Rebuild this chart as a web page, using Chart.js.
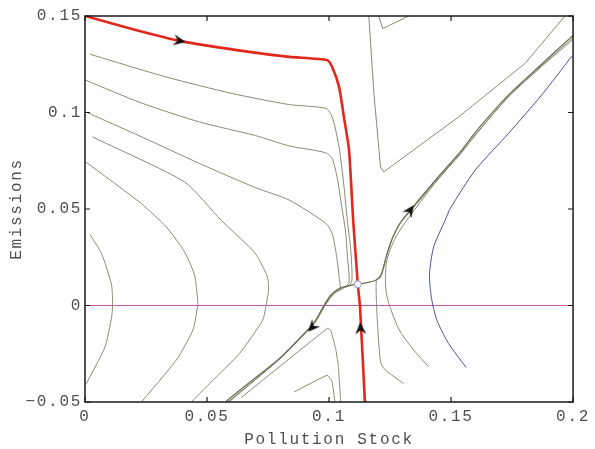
<!DOCTYPE html>
<html><head><meta charset="utf-8">
<script src="https://cdn.jsdelivr.net/npm/chart.js@4.4.0/dist/chart.umd.min.js"></script>
<style>html,body{margin:0;padding:0;background:#fff}</style>
</head><body>
<canvas id="c" width="595" height="449"></canvas>
<script>
// ---- tick values / labels ----
const xTickValues = [0, 0.05, 0.1, 0.15, 0.2];
const xTickLabels = ['0', '0.05', '0.1', '0.15', '0.2'];
const yTickValues = [-0.05, 0, 0.05, 0.1, 0.15];
const yTickLabels = ['\u22120.05', '0', '0.05', '0.1', '0.15'];

// ---- phase-diagram curves: [pollution stock, emissions] ----
const stableManifold = [[0,0.1500],[0.0200,0.1430],[0.0388,0.1371],[0.0673,0.1314],[0.0837,0.1288],[0.0993,0.1271],[0.1013,0.1236],[0.1041,0.1133],[0.1061,0.0977],[0.1082,0.0805],[0.1099,0.0442],[0.1118,0.0110],[0.1127,-0.0007],[0.1147,-0.0500]];
const unstableUpper = [[0.1118,0.0110],[0.1160,0.0120],[0.1191,0.0131],[0.1211,0.0150],[0.1222,0.0190],[0.1238,0.0270],[0.1260,0.0350],[0.1290,0.0425],[0.1333,0.0494],[0.1436,0.0649],[0.1544,0.0805],[0.1599,0.0897],[0.1735,0.1090],[0.1871,0.1250],[0.1993,0.1392],[0.2000,0.1398]];
const unstableLower = [[0.1118,0.0110],[0.1078,0.0102],[0.1041,0.0088],[0.1007,0.0053],[0.0980,0.0002],[0.0946,-0.0076],[0.0918,-0.0119],[0.0864,-0.0190],[0.0796,-0.0275],[0.0728,-0.0345],[0.0592,-0.0482],[0.0576,-0.0500]];
const pathA = [[0.0020,0.1302],[0.0333,0.1184],[0.0605,0.1098],[0.0837,0.1041],[0.0987,0.1021],[0.1013,0.0977],[0.1041,0.0822],[0.1061,0.0620],[0.1075,0.0442],[0.1089,0.0287],[0.1094,0.0130],[0.1080,0.0100],[0.1041,0.0086],[0.1007,0.0050],[0.0980,0.0000],[0.0946,-0.0078],[0.0918,-0.0120],[0.0796,-0.0277],[0.0590,-0.0500]];
const pathB = [[0.0003,0.1167],[0.0230,0.1050],[0.0469,0.0951],[0.0700,0.0880],[0.0837,0.0827],[0.0987,0.0791],[0.1013,0.0760],[0.1034,0.0660],[0.1048,0.0546],[0.1068,0.0380],[0.1075,0.0261],[0.1082,0.0120],[0.1060,0.0090],[0.1030,0.0070],[0.1000,0.0030],[0.0975,-0.0020],[0.0946,-0.0081],[0.0918,-0.0124],[0.0796,-0.0280],[0.0585,-0.0500]];
const pathC = [[0.0003,0.1003],[0.0230,0.0875],[0.0469,0.0736],[0.0700,0.0610],[0.0837,0.0546],[0.0987,0.0425],[0.1013,0.0373],[0.1027,0.0287],[0.1034,0.0230],[0.1041,0.0150],[0.1045,0.0085],[0.1020,0.0065],[0.0995,0.0030],[0.0975,-0.0015],[0.0946,-0.0080],[0.0918,-0.0122],[0.0796,-0.0278],[0.0588,-0.0500]];
const pathD = [[0.0030,0.0874],[0.0408,0.0640],[0.0558,0.0442],[0.0687,0.0287],[0.0707,0.0252],[0.0748,0.0148],[0.0752,0.0079],[0.0742,0.0000],[0.0728,-0.0076],[0.0633,-0.0249],[0.0538,-0.0370],[0.0436,-0.0500]];
const pathE = [[0.0003,0.0744],[0.0231,0.0528],[0.0333,0.0407],[0.0408,0.0278],[0.0449,0.0157],[0.0462,0.0027],[0.0462,0.0000],[0.0442,-0.0128],[0.0374,-0.0283],[0.0231,-0.0500]];
const pathF = [[0.0020,0.0369],[0.0068,0.0269],[0.0109,0.0105],[0.0113,0.0000],[0.0109,-0.0059],[0.0082,-0.0215],[0.0004,-0.0408]];
const cornerBig = [[0.1163,0.1500],[0.1184,0.1098],[0.1211,0.0718],[0.1224,0.0692],[0.1531,0.0977],[0.1803,0.1254],[0.1967,0.1500]];
const cornerSmall = [[0.1204,0.1500],[0.1220,0.1435],[0.1327,0.1500]];
const lowerHyp1 = [[0.0640,-0.0477],[0.0993,-0.0119],[0.1007,-0.0128],[0.1027,-0.0223],[0.1038,-0.0309],[0.1048,-0.0500]];
const lowerHyp2 = [[0.0857,-0.0448],[0.0993,-0.0361],[0.1013,-0.0396],[0.1024,-0.0500]];
const rightR1 = [[0.2000,0.1378],[0.1871,0.1238],[0.1735,0.1080],[0.1599,0.0885],[0.1544,0.0793],[0.1436,0.0636],[0.1340,0.0478],[0.1285,0.0380],[0.1250,0.0290],[0.1235,0.0220],[0.1231,0.0150],[0.1233,0.0080],[0.1245,0.0010],[0.1286,-0.0122],[0.1340,-0.0220],[0.1408,-0.0318]];
const rightR2 = [[0.1306,-0.0404],[0.1231,-0.0335],[0.1211,-0.0292],[0.1197,-0.0059],[0.1193,0.0080],[0.1195,0.0135],[0.1213,0.0160],[0.1225,0.0210],[0.1241,0.0280],[0.1264,0.0360],[0.1294,0.0430],[0.1336,0.0492],[0.1438,0.0643],[0.1546,0.0800],[0.1737,0.1086],[0.1873,0.1245],[0.2000,0.1388]];
const bluePath = [[0.1562,-0.0321],[0.1490,-0.0197],[0.1442,-0.0076],[0.1419,0.0045],[0.1412,0.0166],[0.1429,0.0304],[0.1476,0.0442],[0.1497,0.0503],[0.1599,0.0701],[0.1735,0.0891],[0.1871,0.1090],[0.1993,0.1288],[0.2000,0.1296]];
const zeroLine = [[0,0],[0.2,0]];
const equilibrium = [[0.1118,0.0110]];
const arrowPoints = [[0.0388,0.1371],[0.1129,-0.0118],[0.1333,0.0494],[0.0931,-0.0113]];
const arrowAngles = [10,-93,-55,132];

const pts = a => a.map(p => ({x:p[0], y:p[1]}));

// arrow head image
const arrowImg = document.createElement('canvas');
arrowImg.width = 16; arrowImg.height = 16;
(function(){
  const g = arrowImg.getContext('2d');
  g.fillStyle = '#111';
  g.beginPath();
  g.moveTo(14,8); g.lineTo(2,2.5); g.lineTo(6,8); g.lineTo(2,13.5); g.closePath();
  g.fill();
})();

const GREY = '#8a8a76', DARK = '#6a6a52';
function curve(data, color, width, tension, order){
  return {data: pts(data), showLine:true, borderColor:color, backgroundColor:color, borderWidth:width,
          pointRadius:0, pointHoverRadius:0, tension:tension, fill:false, order:order};
}

const datasets = [
  {data: pts(arrowPoints), showLine:false, pointStyle: arrowImg, rotation: arrowAngles, pointRadius:6, order:0},
  {data: pts(equilibrium), showLine:false, pointStyle:'circle', pointRadius:3.5, borderWidth:1,
   borderColor:'#8595d5', backgroundColor:'#ffffff', order:1},
  curve(stableManifold, '#e2281c', 2.6, 0.2, 2),
  curve(unstableUpper, DARK, 1.2, 0.25, 3),
  curve(unstableLower, DARK, 1.2, 0.25, 3),
  curve(pathA, GREY, 1, 0.25, 5),
  curve(pathB, GREY, 1, 0.25, 5),
  curve(pathC, GREY, 1, 0.25, 5),
  curve(pathD, GREY, 1, 0.2, 5),
  curve(pathE, GREY, 1, 0.2, 5),
  curve(pathF, GREY, 1, 0.2, 5),
  curve(cornerBig, GREY, 1, 0, 5),
  curve(cornerSmall, GREY, 1, 0, 5),
  curve(lowerHyp1, GREY, 1, 0.1, 5),
  curve(lowerHyp2, GREY, 1, 0.1, 5),
  curve(rightR1, GREY, 1, 0.25, 5),
  curve(rightR2, GREY, 1, 0.2, 5),
  curve(bluePath, '#4a50a0', 1, 0.25, 5),
  curve(zeroLine, '#c056a6', 1, 0, 6)
];

const FONT = {family:"'Liberation Mono', 'DejaVu Sans Mono', monospace", size:16};
const TXT = '#4f4f4f';
const LS = '1.7px';

const framePlugin = {
  id:'frame',
  beforeUpdate(chart){ chart.ctx.letterSpacing = LS; },
  beforeLayout(chart){ chart.ctx.letterSpacing = LS; },
  beforeDraw(chart){ chart.ctx.letterSpacing = LS; },
  afterDraw(chart){
    const {ctx, chartArea:{left,right,top,bottom}, scales:{x,y}} = chart;
    ctx.save();
    ctx.strokeStyle = '#1a1a1a';
    ctx.lineWidth = 1.5;
    ctx.strokeRect(left, top, right-left, bottom-top);
    ctx.lineWidth = 1.2;
    ctx.beginPath();
    xTickValues.forEach(v => {
      const px = x.getPixelForValue(v);
      ctx.moveTo(px, bottom); ctx.lineTo(px, bottom-5);
      ctx.moveTo(px, top); ctx.lineTo(px, top+5);
    });
    yTickValues.forEach(v => {
      const py = y.getPixelForValue(v);
      ctx.moveTo(left, py); ctx.lineTo(left+5, py);
      ctx.moveTo(right, py); ctx.lineTo(right-5, py);
    });
    ctx.stroke();
    ctx.restore();
  }
};

const lookup = (vals, labs) => (v) => { const i = vals.findIndex(t => Math.abs(t - v) < 1e-9); return i < 0 ? '' : labs[i]; };

new Chart(document.getElementById('c'), {
  type:'scatter',
  data:{datasets},
  plugins:[framePlugin],
  options:{
    responsive:false, animation:false, events:[],
    layout:{padding:{top:16, right:20, left:0, bottom:0}},
    plugins:{legend:{display:false}, tooltip:{enabled:false}},
    scales:{
      x:{type:'linear', min:0, max:0.2,
         afterBuildTicks: s => { s.ticks = xTickValues.map(v => ({value:v})); },
         afterFit: s => { s.height = 47; },
         grid:{display:false, drawTicks:false}, border:{display:false},
         ticks:{callback: lookup(xTickValues, xTickLabels), font:FONT, color:TXT, padding:5, maxRotation:0, autoSkip:false},
         title:{display:true, text:'Pollution Stock', font:FONT, color:TXT, padding:{top:0, bottom:0}}},
      y:{type:'linear', min:-0.05, max:0.15,
         afterBuildTicks: s => { s.ticks = yTickValues.map(v => ({value:v})); },
         afterFit: s => { s.width = 85; },
         grid:{display:false, drawTicks:false}, border:{display:false},
         ticks:{callback: lookup(yTickValues, yTickLabels), font:FONT, color:TXT, padding:3, autoSkip:false},
         title:{display:true, text:'Emissions', font:FONT, color:TXT, padding:{top:7, bottom:0}}}
    }
  }
});
</script>
</body></html>
